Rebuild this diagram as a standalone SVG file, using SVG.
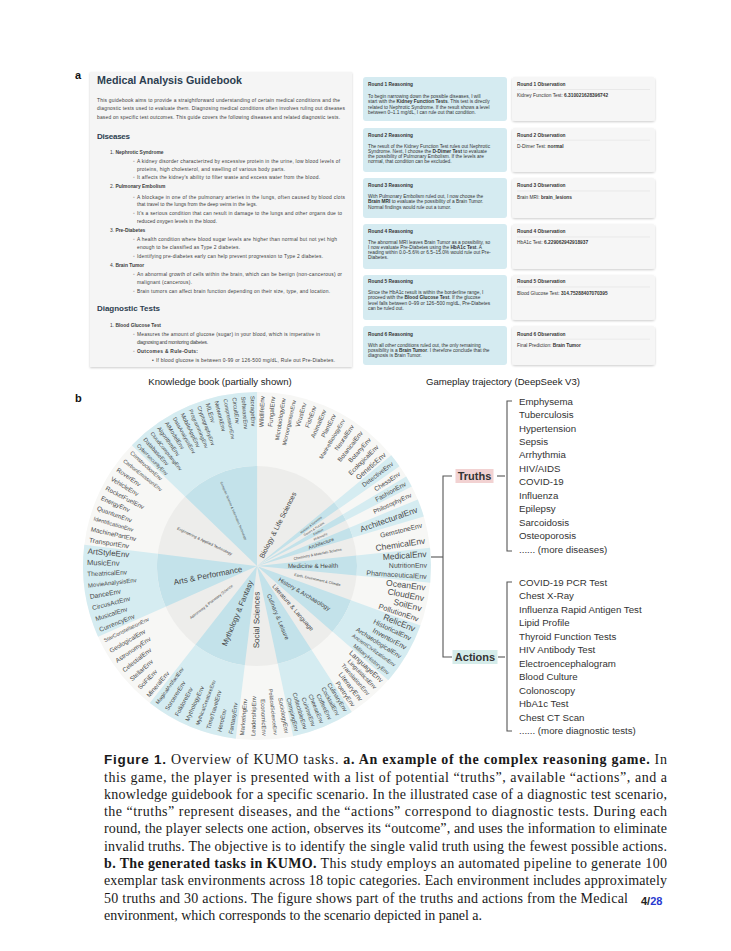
<svg xmlns="http://www.w3.org/2000/svg" width="731" height="951" viewBox="0 0 731 951">
<defs>
<filter id="sh" x="-5%" y="-5%" width="110%" height="115%"><feDropShadow dx="0" dy="1" stdDeviation="1.2" flood-color="#000" flood-opacity="0.2"/></filter>
<style>
.sans{font-family:"Liberation Sans",Arial,sans-serif}
.gb{font-family:"Liberation Sans",Arial,sans-serif;font-size:4.9px;fill:#3c3c3c}
.gh{font-family:"Liberation Sans",Arial,sans-serif;font-weight:bold;fill:#2c3e50}
.rt{font-family:"Liberation Sans",Arial,sans-serif;font-size:4.8px;fill:#333}
.b{font-weight:bold}
.lf{font-family:"Liberation Sans",Arial,sans-serif;fill:#4a4a4a}
.ct{font-family:"Liberation Sans",Arial,sans-serif;fill:#444}
.wi{fill:none;stroke:#c3e2ea;stroke-width:100}
.wo{fill:none;stroke:#d5ecf1;stroke-width:74}
.it{font-family:"Liberation Sans",Arial,sans-serif;font-size:9.7px;fill:#333}
.cap{font-family:"Liberation Serif","Times New Roman",serif;font-size:14px;fill:#1a1a1a}
.con{fill:none;stroke:#555;stroke-width:1.1}
.rbox{fill:#d5ebf1}
.obox{fill:#f6f6f6;filter:url(#sh)}
</style>
</defs>
<rect width="731" height="951" fill="#fff"/>

<text class="sans b" x="75" y="79" font-size="11" fill="#111">a</text>
<text class="sans b" x="75" y="402" font-size="11" fill="#111">b</text>

<!-- Guidebook -->
<g id="guidebook">
<rect x="90" y="72" width="262" height="295" fill="#f5f5f5" filter="url(#sh)"/>
<text class="gh" x="97" y="83.5" font-size="11" textLength="145" lengthAdjust="spacingAndGlyphs">Medical Analysis Guidebook</text>
<text class="gb" x="97" y="101.7" textLength="243">This guidebook aims to provide a straightforward understanding of certain medical conditions and the</text>
<text class="gb" x="97" y="110.2" textLength="248">diagnostic tests used to evaluate them. Diagnosing medical conditions often involves ruling out diseases</text>
<text class="gb" x="97" y="118.7" textLength="243">based on specific test outcomes. This guide covers the following diseases and related diagnostic tests.</text>
<text class="gh" x="97" y="138.5" font-size="8" textLength="33">Diseases</text>
<text class="gb" x="110" y="154.4">1. <tspan class="b">Nephrotic Syndrome</tspan></text>
<text class="gb" x="133" y="163.4">◦</text><text class="gb" x="137" y="163.4" textLength="203">A kidney disorder characterized by excessive protein in the urine, low blood levels of</text>
<text class="gb" x="137" y="171" textLength="148">proteins, high cholesterol, and swelling of various body parts.</text>
<text class="gb" x="133" y="179.4">◦</text><text class="gb" x="137" y="179.4" textLength="183">It affects the kidney's ability to filter waste and excess water from the blood.</text>
<text class="gb" x="110" y="188.4">2. <tspan class="b">Pulmonary Embolism</tspan></text>
<text class="gb" x="133" y="198.7">◦</text><text class="gb" x="137" y="198.7" textLength="208">A blockage in one of the pulmonary arteries in the lungs, often caused by blood clots</text>
<text class="gb" x="137" y="205.7" textLength="120">that travel to the lungs from the deep veins in the legs.</text>
<text class="gb" x="133" y="215">◦</text><text class="gb" x="137" y="215" textLength="205">It's a serious condition that can result in damage to the lungs and other organs due to</text>
<text class="gb" x="137" y="222.7" textLength="80">reduced oxygen levels in the blood.</text>
<text class="gb" x="110" y="231.7">3. <tspan class="b">Pre-Diabetes</tspan></text>
<text class="gb" x="133" y="241">◦</text><text class="gb" x="137" y="241" textLength="200">A health condition where blood sugar levels are higher than normal but not yet high</text>
<text class="gb" x="137" y="249" textLength="103">enough to be classified as Type 2 diabetes.</text>
<text class="gb" x="133" y="258">◦</text><text class="gb" x="137" y="258" textLength="186">Identifying pre-diabetes early can help prevent progression to Type 2 diabetes.</text>
<text class="gb" x="110" y="266.7">4. <tspan class="b">Brain Tumor</tspan></text>
<text class="gb" x="133" y="275.7">◦</text><text class="gb" x="137" y="275.7" textLength="205">An abnormal growth of cells within the brain, which can be benign (non-cancerous) or</text>
<text class="gb" x="137" y="283.7" textLength="55">malignant (cancerous).</text>
<text class="gb" x="133" y="292.7">◦</text><text class="gb" x="137" y="292.7" textLength="193">Brain tumors can affect brain function depending on their size, type, and location.</text>
<text class="gh" x="97" y="311" font-size="8" textLength="63">Diagnostic Tests</text>
<text class="gb" x="110" y="327.4">1. <tspan class="b">Blood Glucose Test</tspan></text>
<text class="gb" x="133" y="335.7">◦</text><text class="gb" x="137" y="335.7" textLength="183">Measures the amount of glucose (sugar) in your blood, which is imperative in</text>
<text class="gb" x="137" y="344.4" textLength="71">diagnosing and monitoring diabetes.</text>
<text class="gb" x="133" y="353.4">◦</text><text class="gb b" x="137" y="353.4" textLength="61">Outcomes &amp; Rule-Outs:</text>
<text class="gb" x="152" y="362">•</text><text class="gb" x="156" y="362" textLength="179">If blood glucose is between 0-99 or 126-500 mg/dL, Rule out Pre-Diabetes.</text>
</g>
<text class="sans" x="220" y="384.5" font-size="9.6" fill="#222" text-anchor="middle">Knowledge book (partially shown)</text>

<!-- Gameplay trajectory -->
<g id="round1">
<rect class="rbox" x="363" y="77" width="144" height="44" rx="3"/>
<text class="rt b" x="368" y="85.9">Round 1 Reasoning</text>
<text class="rt" x="368" y="98.3">To begin narrowing down the possible diseases, I will</text>
<text class="rt" x="368" y="103.4">start with the <tspan class="b">Kidney Function Tests</tspan>. This test is directly</text>
<text class="rt" x="368" y="108.5">related to Nephrotic Syndrome. If the result shows a level</text>
<text class="rt" x="368" y="113.6">between 0–1.1 mg/dL, I can rule out that condition.</text>
<rect class="obox" x="512" y="77" width="143" height="44" rx="3"/>
<text class="rt b" x="517" y="85.9">Round 1 Observation</text>
<line x1="517" y1="89.5" x2="650" y2="89.5" stroke="#dcdcdc" stroke-width="0.5"/>
<text class="rt" x="517" y="97">Kidney Function Test: <tspan class="b">6.310021628396742</tspan></text>
</g>
<g id="round2">
<rect class="rbox" x="363" y="128" width="144" height="44" rx="3"/>
<text class="rt b" x="368" y="136.6">Round 2 Reasoning</text>
<text class="rt" x="368" y="147.6">The result of the Kidney Function Test rules out Nephrotic</text>
<text class="rt" x="368" y="152.7">Syndrome. Next, I choose the <tspan class="b">D-Dimer Test</tspan> to evaluate</text>
<text class="rt" x="368" y="157.8">the possibility of Pulmonary Embolism. If the levels are</text>
<text class="rt" x="368" y="162.9">normal, that condition can be excluded.</text>
<rect class="obox" x="512" y="128" width="143" height="44" rx="3"/>
<text class="rt b" x="517" y="136.6">Round 2 Observation</text>
<line x1="517" y1="140.2" x2="650" y2="140.2" stroke="#dcdcdc" stroke-width="0.5"/>
<text class="rt" x="517" y="147.6">D-Dimer Test: <tspan class="b">normal</tspan></text>
</g>
<g id="round3">
<rect class="rbox" x="363" y="178" width="144" height="40" rx="3"/>
<text class="rt b" x="368" y="187.3">Round 3 Reasoning</text>
<text class="rt" x="368" y="198.3">With Pulmonary Embolism ruled out, I now choose the</text>
<text class="rt" x="368" y="203.4"><tspan class="b">Brain MRI</tspan> to evaluate the possibility of a Brain Tumor.</text>
<text class="rt" x="368" y="208.5">Normal findings would rule out a tumor.</text>
<rect class="obox" x="512" y="178" width="143" height="40" rx="3"/>
<text class="rt b" x="517" y="187.3">Round 3 Observation</text>
<line x1="517" y1="190.9" x2="650" y2="190.9" stroke="#dcdcdc" stroke-width="0.5"/>
<text class="rt" x="517" y="198.6">Brain MRI: <tspan class="b">brain_lesions</tspan></text>
</g>
<g id="round4">
<rect class="rbox" x="363" y="224" width="144" height="45" rx="3"/>
<text class="rt b" x="368" y="233.3">Round 4 Reasoning</text>
<text class="rt" x="368" y="243.9">The abnormal MRI leaves Brain Tumor as a possibility, so</text>
<text class="rt" x="368" y="249">I now evaluate Pre-Diabetes using the <tspan class="b">HbA1c Test</tspan>. A</text>
<text class="rt" x="368" y="254.1">reading within 0.0–5.6% or 6.5–15.0% would rule out Pre-</text>
<text class="rt" x="368" y="259.2">Diabetes.</text>
<rect class="obox" x="512" y="224" width="143" height="45" rx="3"/>
<text class="rt b" x="517" y="233.3">Round 4 Observation</text>
<line x1="517" y1="236.9" x2="650" y2="236.9" stroke="#dcdcdc" stroke-width="0.5"/>
<text class="rt" x="517" y="243.9">HbA1c Test: <tspan class="b">6.229062942918937</tspan></text>
</g>
<g id="round5">
<rect class="rbox" x="363" y="275" width="144" height="45" rx="3"/>
<text class="rt b" x="368" y="283.3">Round 5 Reasoning</text>
<text class="rt" x="368" y="294.3">Since the HbA1c result is within the borderline range, I</text>
<text class="rt" x="368" y="299.4">proceed with the <tspan class="b">Blood Glucose Test</tspan>. If the glucose</text>
<text class="rt" x="368" y="304.5">level falls between 0–99 or 126–500 mg/dL, Pre-Diabetes</text>
<text class="rt" x="368" y="309.6">can be ruled out.</text>
<rect class="obox" x="512" y="275" width="143" height="45" rx="3"/>
<text class="rt b" x="517" y="283.3">Round 5 Observation</text>
<line x1="517" y1="286.9" x2="650" y2="286.9" stroke="#dcdcdc" stroke-width="0.5"/>
<text class="rt" x="517" y="294.6">Blood Glucose Test: <tspan class="b">314.75288407070395</tspan></text>
</g>
<g id="round6">
<rect class="rbox" x="363" y="326" width="144" height="39" rx="3"/>
<text class="rt b" x="368" y="335.6">Round 6 Reasoning</text>
<text class="rt" x="368" y="346.6">With all other conditions ruled out, the only remaining</text>
<text class="rt" x="368" y="351.7">possibility is a <tspan class="b">Brain Tumor</tspan>. I therefore conclude that the</text>
<text class="rt" x="368" y="356.8">diagnosis is Brain Tumor.</text>
<rect class="obox" x="512" y="326" width="143" height="39" rx="3"/>
<text class="rt b" x="517" y="335.6">Round 6 Observation</text>
<line x1="517" y1="339.2" x2="650" y2="339.2" stroke="#dcdcdc" stroke-width="0.5"/>
<text class="rt" x="517" y="346.6">Final Prediction: <tspan class="b">Brain Tumor</tspan></text>
</g>
<text class="sans" x="503" y="384.5" font-size="9.6" fill="#222" text-anchor="middle">Gameplay trajectory (DeepSeek V3)</text>

<!-- Sunburst -->
<g id="sunburst" transform="translate(257,566)">
<circle r="174" fill="#f7f7f5"/>
<circle r="100" fill="#ededeb"/>

<g id="cat-biology">
<text class="ct" font-size="7" transform="rotate(297)" x="46" dy="0.35em" text-anchor="middle">Biology &amp; Life Sciences</text>
<g class="lf" font-size="6.3" text-anchor="end">
<text transform="rotate(271.8)" x="170" dy="0.35em">WildlifeEnv</text>
<text transform="rotate(275.4)" x="170" dy="0.35em">FungalEnv</text>
<text transform="rotate(279.0)" x="170" dy="0.35em" font-size="5.8">MicrobiologyEnv</text>
<text transform="rotate(282.6)" x="170" dy="0.35em" font-size="5.6">MicroorganismEnv</text>
<text transform="rotate(286.2)" x="170" dy="0.35em">VirusEnv</text>
<text transform="rotate(289.8)" x="170" dy="0.35em">FishEnv</text>
<text transform="rotate(293.4)" x="170" dy="0.35em">AnimalEnv</text>
<text transform="rotate(297.0)" x="170" dy="0.35em">PlantEnv</text>
<text transform="rotate(300.6)" x="170" dy="0.35em" font-size="5.6">MarineBiologyEnv</text>
<text transform="rotate(304.2)" x="170" dy="0.35em">NeuralEnv</text>
<text transform="rotate(307.9)" x="170" dy="0.35em">BotanicalEnv</text>
<text transform="rotate(311.5)" x="170" dy="0.35em">BotanyEnv</text>
<text transform="rotate(315.1)" x="170" dy="0.35em">EcologicalEnv</text>
<text transform="rotate(318.7)" x="170" dy="0.35em" font-size="7.2">GeneticEnv</text>
</g>
</g>

<g id="cat-detective">
<circle r="50" class="wi" stroke-dasharray="3.927 400" transform="rotate(320.5)"/>
<circle r="137" class="wo" stroke-dasharray="10.760 1000" transform="rotate(320.5)"/>
<text class="ct" font-size="3" transform="rotate(322.75)" x="68" dy="0.35em" text-anchor="middle">Mystery &amp; Detective</text>
<text class="lf" font-size="6.3" transform="rotate(322.75)" x="170" dy="0.35em" text-anchor="end">DetectiveEnv</text>
</g>
<g id="cat-games">
<text class="ct" font-size="3" transform="rotate(327)" x="68" dy="0.35em" text-anchor="middle">Games &amp; Puzzles</text>
<text class="lf" font-size="6.5" transform="rotate(327)" x="170" dy="0.35em" text-anchor="end">ChessEnv</text>
</g>
<g id="cat-fashion">
<circle r="50" class="wi" stroke-dasharray="3.316 400" transform="rotate(329)"/>
<circle r="137" class="wo" stroke-dasharray="9.086 1000" transform="rotate(329)"/>
<text class="ct" font-size="3" transform="rotate(330.9)" x="70" dy="0.35em" text-anchor="middle">Fashion</text>
<text class="lf" font-size="6.5" transform="rotate(330.9)" x="170" dy="0.35em" text-anchor="end">FashionEnv</text>
</g>
<g id="cat-philosophy">
<text class="ct" font-size="3" transform="rotate(335.15)" x="70" dy="0.35em" text-anchor="middle">Philosophy</text>
<text class="lf" font-size="6.3" transform="rotate(335.15)" x="170" dy="0.35em" text-anchor="end">PhilosophyEnv</text>
</g>
<g id="cat-architecture">
<circle r="50" class="wi" stroke-dasharray="5.236 400" transform="rotate(337.5)"/>
<circle r="137" class="wo" stroke-dasharray="14.347 1000" transform="rotate(337.5)"/>
<text class="ct" font-size="5" transform="rotate(340.5)" x="68" dy="0.35em" text-anchor="middle">Architecture</text>
<text class="lf" font-size="8.3" transform="rotate(340.5)" x="170" dy="0.35em" text-anchor="end">ArchitecturalEnv</text>
</g>
<g id="cat-chemistry">
<text class="ct" font-size="3.6" transform="rotate(348.75)" x="62" dy="0.35em" text-anchor="middle">Chemistry &amp; Materials Science</text>
<text class="lf" font-size="6.8" transform="rotate(346.1)" x="170" dy="0.35em" text-anchor="end">GemstoneEnv</text>
<text class="lf" font-size="8.5" transform="rotate(351.4)" x="170" dy="0.35em" text-anchor="end">ChemicalEnv</text>
</g>
<g id="cat-medicine">
<circle r="50" class="wi" stroke-dasharray="10.036 400" transform="rotate(354)"/>
<circle r="137" class="wo" stroke-dasharray="27.498 1000" transform="rotate(354)"/>
<text class="ct" font-size="6.2" transform="rotate(359.75)" x="56" dy="0.35em" text-anchor="middle">Medicine &amp; Health</text>
<text class="lf" font-size="8.5" transform="rotate(355.9)" x="170" dy="0.35em" text-anchor="end">MedicalEnv</text>
<text class="lf" font-size="7" transform="rotate(359.75)" x="170" dy="0.35em" text-anchor="end">NutritionEnv</text>
<text class="lf" font-size="7" transform="rotate(3.58)" x="170" dy="0.35em" text-anchor="end">PharmaceuticalEnv</text>
</g>
<g id="cat-earth">
<text class="ct" font-size="3.6" transform="rotate(12.75)" x="62" dy="0.35em" text-anchor="middle">Earth, Environment &amp; Climate</text>
<g class="lf" font-size="8.5" text-anchor="end">
<text transform="rotate(7.31)" x="170" dy="0.35em">OceanEnv</text>
<text transform="rotate(10.94)" x="170" dy="0.35em">CloudEnv</text>
<text transform="rotate(14.56)" x="170" dy="0.35em">SoilEnv</text>
<text transform="rotate(18.19)" x="170" dy="0.35em" font-size="7.5">PollutionEnv</text>
</g>
</g>
<g id="cat-history">
<circle r="50" class="wi" stroke-dasharray="18.326 400" transform="rotate(20)"/>
<circle r="137" class="wo" stroke-dasharray="50.213 1000" transform="rotate(20)"/>
<text class="ct" font-size="6" transform="rotate(30.5)" x="55" dy="0.35em" text-anchor="middle">History &amp; Archaeology</text>
<g class="lf" font-size="7" text-anchor="end">
<text transform="rotate(21.75)" x="170" dy="0.35em" font-size="8.5">RelicEnv</text>
<text transform="rotate(25.25)" x="170" dy="0.35em">HistoricalEnv</text>
<text transform="rotate(28.75)" x="170" dy="0.35em">InventorEnv</text>
<text transform="rotate(32.25)" x="170" dy="0.35em" font-size="6.3">ArchaeologicalEnv</text>
<text transform="rotate(35.75)" x="170" dy="0.35em" font-size="5.3">AncientCivilizationEnv</text>
<text transform="rotate(39.25)" x="170" dy="0.35em" font-size="5.6">MilitaryHistoryEnv</text>
</g>
</g>
<g id="cat-literature">
<text class="ct" font-size="6" transform="rotate(49)" x="55" dy="0.35em" text-anchor="middle">Literature &amp; Language</text>
<g class="lf" font-size="6.3" text-anchor="end">
<text transform="rotate(42.6)" x="170" dy="0.35em" font-size="7">LanguageEnv</text>
<text transform="rotate(45.8)" x="170" dy="0.35em" font-size="6">LinguisticsEnv</text>
<text transform="rotate(49.0)" x="170" dy="0.35em" font-size="6">TranslationEnv</text>
<text transform="rotate(52.2)" x="170" dy="0.35em" font-size="6.8">LiteraryEnv</text>
<text transform="rotate(55.4)" x="170" dy="0.35em">PoetryEnv</text>
</g>
</g>
<g id="cat-culinary">
<circle r="50" class="wi" stroke-dasharray="18.326 400" transform="rotate(57)"/>
<circle r="137" class="wo" stroke-dasharray="50.213 1000" transform="rotate(57)"/>
<text class="ct" font-size="6" transform="rotate(67.5)" x="55" dy="0.35em" text-anchor="middle">Culinary &amp; Leisure</text>
<g class="lf" font-size="6" text-anchor="end">
<text transform="rotate(58.5)" x="170" dy="0.35em">CulinaryEnv</text>
<text transform="rotate(61.5)" x="170" dy="0.35em">CocktailEnv</text>
<text transform="rotate(64.5)" x="170" dy="0.35em">CoffeeEnv</text>
<text transform="rotate(67.5)" x="170" dy="0.35em">CheeseEnv</text>
<text transform="rotate(70.5)" x="170" dy="0.35em">CuisineEnv</text>
<text transform="rotate(73.5)" x="170" dy="0.35em">CollectibleEnv</text>
<text transform="rotate(76.5)" x="170" dy="0.35em">CampingEnv</text>
</g>
</g>
<g id="cat-social">
<text class="ct" font-size="8" transform="rotate(-89.5)" x="-54" dy="0.35em" text-anchor="middle">Social Sciences</text>
<g class="lf" font-size="6">
<text transform="rotate(79.9)" x="170" dy="0.35em" text-anchor="end">SociologyEnv</text>
<text transform="rotate(83.7)" x="170" dy="0.35em" text-anchor="end" font-size="5.3">PoliticalScienceEnv</text>
<text transform="rotate(87.5)" x="170" dy="0.35em" text-anchor="end">EconomicEnv</text>
<text transform="rotate(-88.7)" x="-170" dy="0.35em">LeadershipEnv</text>
<text transform="rotate(-84.9)" x="-170" dy="0.35em">MarketingEnv</text>
</g>
</g>
<g id="cat-mythology">
<circle r="50" class="wi" stroke-dasharray="27.053 400" transform="rotate(97)"/>
<circle r="137" class="wo" stroke-dasharray="74.124 1000" transform="rotate(97)"/>
<text class="ct" font-size="7.5" transform="rotate(-67.5)" x="-51" dy="0.35em" text-anchor="middle">Mythology &amp; Fantasy</text>
<g class="lf" font-size="6">
<text transform="rotate(-81.1)" x="-170" dy="0.35em">FantasyEnv</text>
<text transform="rotate(-77.2)" x="-170" dy="0.35em">HeroEnv</text>
<text transform="rotate(-73.3)" x="-170" dy="0.35em">TimeTravelEnv</text>
<text transform="rotate(-69.4)" x="-170" dy="0.35em" font-size="5.2">MythicalCreatureEnv</text>
<text transform="rotate(-65.6)" x="-170" dy="0.35em">MythologyEnv</text>
<text transform="rotate(-61.7)" x="-170" dy="0.35em">FolkloreEnv</text>
<text transform="rotate(-57.8)" x="-170" dy="0.35em">SorcererEnv</text>
<text transform="rotate(-53.9)" x="-170" dy="0.35em" font-size="5.3">MagicalArtifactEnv</text>
</g>
</g>
<g id="cat-astronomy">
<text class="ct" font-size="3.8" transform="rotate(-38)" x="-58" dy="0.35em" text-anchor="middle">Astronomy &amp; Planetary Science</text>
<g class="lf" font-size="6.3">
<text transform="rotate(-50)" x="-170" dy="0.35em">MineralEnv</text>
<text transform="rotate(-46)" x="-170" dy="0.35em">SciFiEnv</text>
<text transform="rotate(-42)" x="-170" dy="0.35em">StellarEnv</text>
<text transform="rotate(-38)" x="-170" dy="0.35em">CelestialEnv</text>
<text transform="rotate(-34)" x="-170" dy="0.35em">AstronomyEnv</text>
<text transform="rotate(-30)" x="-170" dy="0.35em">GeologicalEnv</text>
<text transform="rotate(-26)" x="-170" dy="0.35em" font-size="5.3">StarConstellationEnv</text>
</g>
</g>
<g id="cat-arts">
<circle r="50" class="wi" stroke-dasharray="27.053 400" transform="rotate(156)"/>
<circle r="137" class="wo" stroke-dasharray="74.124 1000" transform="rotate(156)"/>
<text class="ct" font-size="8" transform="rotate(-11)" x="-50" dy="0.35em" text-anchor="middle">Arts &amp; Performance</text>
<g class="lf" font-size="6.5">
<text transform="rotate(-22.1)" x="-170" dy="0.35em">CurrencyEnv</text>
<text transform="rotate(-18.2)" x="-170" dy="0.35em">MusicalEnv</text>
<text transform="rotate(-14.3)" x="-170" dy="0.35em">CircusActEnv</text>
<text transform="rotate(-10.4)" x="-170" dy="0.35em" font-size="6.8">DanceEnv</text>
<text transform="rotate(-6.6)" x="-170" dy="0.35em" font-size="6">MovieAnalysisEnv</text>
<text transform="rotate(-2.7)" x="-170" dy="0.35em">TheatricalEnv</text>
<text transform="rotate(1.2)" x="-170" dy="0.35em" font-size="7.5">MusicEnv</text>
<text transform="rotate(5.1)" x="-170" dy="0.35em" font-size="8">ArtStyleEnv</text>
</g>
</g>
<g id="cat-engineering">
<text class="ct" font-size="4" transform="rotate(25.5)" x="-58" dy="0.35em" text-anchor="middle">Engineering &amp; Applied Technology</text>
<g class="lf" font-size="6.3">
<text transform="rotate(8.85)" x="-170" dy="0.35em" font-size="6.8">TransportEnv</text>
<text transform="rotate(12.55)" x="-170" dy="0.35em">MachinePartEnv</text>
<text transform="rotate(16.25)" x="-170" dy="0.35em" font-size="5.6">IdentificationEnv</text>
<text transform="rotate(19.95)" x="-170" dy="0.35em">QuantumEnv</text>
<text transform="rotate(23.65)" x="-170" dy="0.35em">EnergyEnv</text>
<text transform="rotate(27.35)" x="-170" dy="0.35em">RocketFuelEnv</text>
<text transform="rotate(31.05)" x="-170" dy="0.35em">VehicleEnv</text>
<text transform="rotate(34.75)" x="-170" dy="0.35em">RoverEnv</text>
<text transform="rotate(38.45)" x="-170" dy="0.35em" font-size="5.3">CarbonEmissionEnv</text>
<text transform="rotate(42.15)" x="-170" dy="0.35em" font-size="5.6">ConstructionEnv</text>
</g>
</g>
<g id="cat-computer">
<circle r="50" class="wi" stroke-dasharray="40.143 400" transform="rotate(224)"/>
<circle r="137" class="wo" stroke-dasharray="109.991 1000" transform="rotate(224)"/>
<text class="ct" font-size="3.2" transform="rotate(67)" x="-60" dy="0.35em" text-anchor="middle">Computer Science &amp; Information Technology</text>
<g class="lf" font-size="5.8">
<text transform="rotate(45.5)" x="-170" dy="0.35em" font-size="5.3">CybersecurityEnv</text>
<text transform="rotate(48.6)" x="-170" dy="0.35em">DatabaseEnv</text>
<text transform="rotate(51.7)" x="-170" dy="0.35em" font-size="5.2">CloudComputingEnv</text>
<text transform="rotate(54.7)" x="-170" dy="0.35em">AlgorithmEnv</text>
<text transform="rotate(57.8)" x="-170" dy="0.35em">AIModelEnv</text>
<text transform="rotate(60.9)" x="-170" dy="0.35em" font-size="5.4">DataAnalysisEnv</text>
<text transform="rotate(63.9)" x="-170" dy="0.35em">MobileAppEnv</text>
<text transform="rotate(67.0)" x="-170" dy="0.35em" font-size="5.4">ProgrammingEnv</text>
<text transform="rotate(70.1)" x="-170" dy="0.35em" font-size="5.4">CryptographyEnv</text>
<text transform="rotate(73.1)" x="-170" dy="0.35em" font-size="6.5">MLEnv</text>
<text transform="rotate(76.2)" x="-170" dy="0.35em">NetworkEnv</text>
<text transform="rotate(79.3)" x="-170" dy="0.35em" font-size="5.4">CompressionEnv</text>
<text transform="rotate(82.3)" x="-170" dy="0.35em">CircuitEnv</text>
<text transform="rotate(85.4)" x="-170" dy="0.35em">SoftwareEnv</text>
<text transform="rotate(88.5)" x="-170" dy="0.35em">StorageEnv</text>
</g>
</g>
</g>

<!-- connectors -->
<g id="connectors" class="con">
<path d="M431,557 H443"/>
<path d="M452,476 H443 V657 H452"/>
<path d="M497,476 H505"/>
<path d="M512,401 H507 V551 H512"/>
<path d="M498,657 H505"/>
<path d="M512,582 H507 V731 H512"/>
</g>

<g id="truths">
<rect x="455.5" y="469" width="38" height="14" fill="#f2d2d2"/>
<text class="sans b" x="474.5" y="480" font-size="11" fill="#333" text-anchor="middle">Truths</text>
<g class="it">
<text x="519" y="404.6">Emphysema</text>
<text x="519" y="418">Tuberculosis</text>
<text x="519" y="431.5">Hypertension</text>
<text x="519" y="444.9">Sepsis</text>
<text x="519" y="458.4">Arrhythmia</text>
<text x="519" y="471.8">HIV/AIDS</text>
<text x="519" y="485.3">COVID-19</text>
<text x="519" y="498.7">Influenza</text>
<text x="519" y="512.2">Epilepsy</text>
<text x="519" y="525.6">Sarcoidosis</text>
<text x="519" y="539.1">Osteoporosis</text>
<text x="519" y="552.5">...... (more diseases)</text>
</g>
</g>
<g id="actions">
<rect x="452.5" y="650" width="45" height="14" fill="#d5ecea"/>
<text class="sans b" x="475" y="661" font-size="11" fill="#333" text-anchor="middle">Actions</text>
<g class="it">
<text x="519" y="585.6">COVID-19 PCR Test</text>
<text x="519" y="599.1">Chest X-Ray</text>
<text x="519" y="612.6">Influenza Rapid Antigen Test</text>
<text x="519" y="626.1">Lipid Profile</text>
<text x="519" y="639.6">Thyroid Function Tests</text>
<text x="519" y="653.1">HIV Antibody Test</text>
<text x="519" y="666.6">Electroencephalogram</text>
<text x="519" y="680.1">Blood Culture</text>
<text x="519" y="693.6">Colonoscopy</text>
<text x="519" y="707.1">HbA1c Test</text>
<text x="519" y="720.6">Chest CT Scan</text>
<text x="519" y="734.1">...... (more diagnostic tests)</text>
</g>
</g>

<!-- caption -->
<g id="caption" class="cap">
<text x="104" y="764" textLength="563"><tspan font-family="Liberation Sans,Arial,sans-serif" font-weight="bold" font-size="13.5">Figure 1.</tspan> Overview of KUMO tasks. <tspan font-weight="bold">a. An example of the complex reasoning game.</tspan> In</text>
<text x="104" y="782" textLength="563">this game, the player is presented with a list of potential “truths”, available “actions”, and a</text>
<text x="104" y="799" textLength="563">knowledge guidebook for a specific scenario. In the illustrated case of a diagnostic test scenario,</text>
<text x="104" y="816" textLength="563">the “truths” represent diseases, and the “actions” correspond to diagnostic tests. During each</text>
<text x="104" y="833" textLength="563">round, the player selects one action, observes its “outcome”, and uses the information to eliminate</text>
<text x="104" y="851" textLength="563">invalid truths. The objective is to identify the single valid truth using the fewest possible actions.</text>
<text x="104" y="868" textLength="563"><tspan font-weight="bold">b. The generated tasks in KUMO.</tspan> This study employs an automated pipeline to generate 100</text>
<text x="104" y="885" textLength="563">exemplar task environments across 18 topic categories. Each environment includes approximately</text>
<text x="104" y="903" textLength="524">50 truths and 30 actions. The figure shows part of the truths and actions from the Medical</text>
<text x="104" y="920" textLength="378">environment, which corresponds to the scenario depicted in panel a.</text>
</g>
<text class="sans b" x="641" y="905" font-size="11" fill="#222">4/<tspan fill="#2a3bd0">28</tspan></text>
</svg>
